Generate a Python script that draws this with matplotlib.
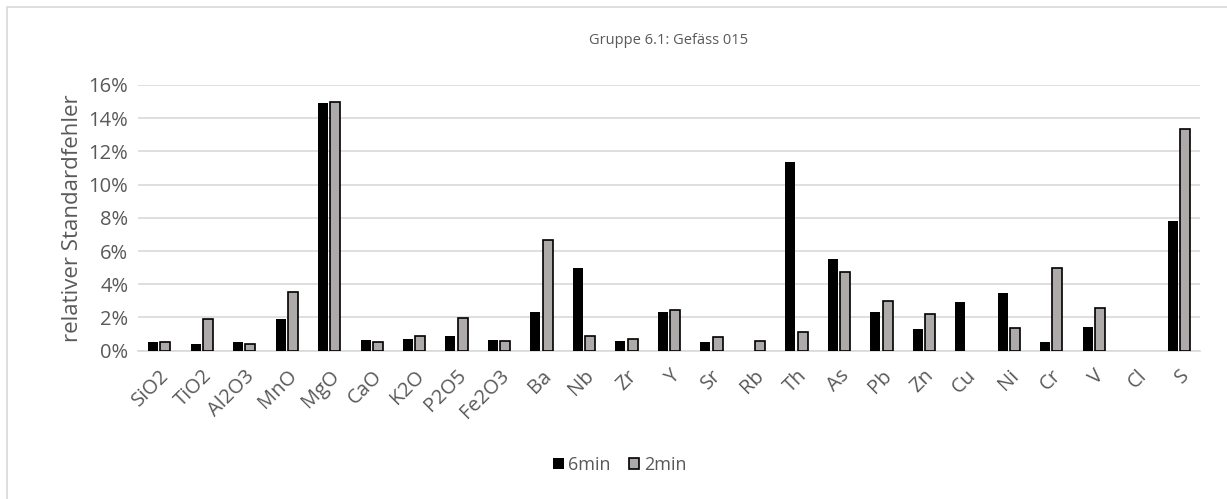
import numpy as np
import matplotlib.pyplot as plt
from matplotlib.patches import Rectangle
from matplotlib.ticker import PercentFormatter

plt.rcParams['font.family'] = ['Open Sans', 'DejaVu Sans']

# Elemente / Oxide
labels = ['SiO2', 'TiO2', 'Al2O3', 'MnO', 'MgO', 'CaO', 'K2O', 'P2O5', 'Fe2O3',
          'Ba', 'Nb', 'Zr', 'Y', 'Sr', 'Rb', 'Th', 'As', 'Pb', 'Zn', 'Cu',
          'Ni', 'Cr', 'V', 'Cl', 'S']

# relativer Standardfehler in % (nan = kein Wert)
err_6min = [0.50, 0.43, 0.50, 1.90, 14.92, 0.62, 0.70, 0.90, 0.62,
            2.31, 4.96, 0.58, 2.35, 0.54, np.nan, 11.35, 5.52, 2.35, 1.30, 2.95,
            3.45, 0.54, 1.43, np.nan, 7.81]
err_2min = [0.55, 1.90, 0.38, 3.55, 14.96, 0.54, 0.86, 1.95, 0.58,
            6.69, 0.90, 0.70, 2.43, 0.82, 0.58, 1.10, 4.76, 2.99, 2.19, np.nan,
            1.39, 5.00, 2.55, np.nan, 13.35]

txt = '#595959'

fig = plt.figure(figsize=(12.27, 4.99), dpi=100)
ax = fig.add_axes([0.1125, 0.2972, 0.8655, 0.5325])

x = np.arange(len(labels))
w = 0.235
ax.bar(x - 0.145, err_6min, w, color='black', label='6min', zorder=3)
ax.bar(x + 0.145, err_2min, w, color='#AEAAAA', edgecolor='black',
       linewidth=1.2, label='2min', zorder=3)

ax.set_xlim(-0.5, len(labels) - 0.5)
ax.set_ylim(0, 16)
ax.set_yticks(np.arange(0, 17, 2))
ax.yaxis.set_major_formatter(PercentFormatter(decimals=0))
ax.grid(axis='y', color='#D9D9D9', linewidth=1.2, zorder=0)
for s in ['top', 'right', 'left']:
    ax.spines[s].set_visible(False)
ax.spines['bottom'].set_color('#D9D9D9')
ax.spines['bottom'].set_linewidth(1.2)
ax.tick_params(length=0, colors=txt, labelsize=14.5)
ax.tick_params(axis='y', pad=7)
ax.set_xticks(x)
ax.set_xticklabels(labels, rotation=45, ha='right', rotation_mode='anchor')
ax.tick_params(axis='x', pad=11)

ax.set_ylabel('relativer Standardfehler', color=txt, fontsize=16, labelpad=4)
fig.text(0.545, 0.918, 'Gruppe 6.1: Gefäss 015', ha='center', va='center',
         color=txt, fontsize=10.5)

leg = fig.legend(loc='center', bbox_to_anchor=(0.505, 0.068), ncol=2,
                 frameon=False, fontsize=13, handlelength=0.6,
                 handleheight=0.6, handletextpad=0.25, columnspacing=1.0,
                 labelcolor=txt)

# Rahmen des Diagrammbereichs
fig.patches.append(Rectangle((7 / 1227, -0.1), 1.2, 1 - 7 / 499 + 0.1,
                             transform=fig.transFigure, fill=False,
                             edgecolor='#D9D9D9', linewidth=1.2))

fig.savefig('out.png', dpi=100)
